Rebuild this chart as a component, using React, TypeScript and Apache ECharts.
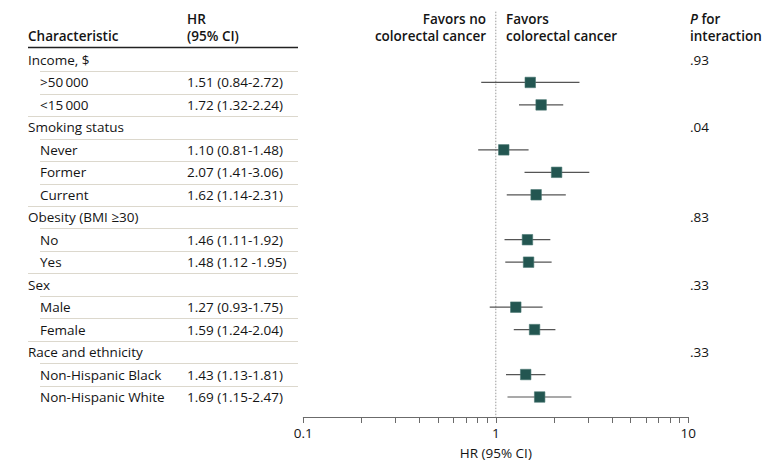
import React, { useEffect, useRef } from "react";
import * as echarts from "echarts";

// ---------- data ----------
const labels = [
  "Income, $",
  ">50\u2009000",
  "<15\u2009000",
  "Smoking status",
  "Never",
  "Former",
  "Current",
  "Obesity (BMI \u226530)",
  "No",
  "Yes",
  "Sex",
  "Male",
  "Female",
  "Race and ethnicity",
  "Non-Hispanic Black",
  "Non-Hispanic White",
];
const isHeader = [true, false, false, true, false, false, false, true, false, false, true, false, false, true, false, false];
const hr = [null, 1.51, 1.72, null, 1.1, 2.07, 1.62, null, 1.46, 1.48, null, 1.27, 1.59, null, 1.43, 1.69];
const lo = [null, 0.84, 1.32, null, 0.81, 1.41, 1.14, null, 1.11, 1.12, null, 0.93, 1.24, null, 1.13, 1.15];
const hi = [null, 2.72, 2.24, null, 1.48, 3.06, 2.31, null, 1.92, 1.95, null, 1.75, 2.04, null, 1.81, 2.47];
const hrText = [
  "",
  "1.51 (0.84-2.72)",
  "1.72 (1.32-2.24)",
  "",
  "1.10 (0.81-1.48)",
  "2.07 (1.41-3.06)",
  "1.62 (1.14-2.31)",
  "",
  "1.46 (1.11-1.92)",
  "1.48 (1.12 -1.95)",
  "",
  "1.27 (0.93-1.75)",
  "1.59 (1.24-2.04)",
  "",
  "1.43 (1.13-1.81)",
  "1.69 (1.15-2.47)",
];
const pInteraction = [".93", "", "", ".04", "", "", "", ".83", "", "", ".33", "", "", ".33", "", ""];
const xTickLabels = ["0.1", "1", "10"];
const minorTickValues = [0.2, 0.3, 0.4, 0.5, 0.6, 0.7, 0.8, 0.9, 2, 3, 4, 5, 6, 7, 8, 9];

// ---------- layout ----------
const FONT = '"Open Sans", "Noto Sans", sans-serif';
const FS = 13.5;
const TEXT = "#141414";
const Y_MIN = -2.5;
const Y_MAX = 15.89;
const GRID_TOP = 3.8;
const GRID_BOTTOM = 55;

export default function App() {
  const ref = useRef<HTMLDivElement>(null);

  useEffect(() => {
    if (!ref.current) return;
    const chart = echarts.init(ref.current, null, { renderer: "svg" });

    const rowData = labels.map((_, i) => [0, i]);
    const ciData = hr
      .map((v, i) => (v == null ? null : [v, i, lo[i], hi[i]]))
      .filter((d) => d !== null);

    const txt = (x: number, y: number, text: string, align: string, weight: any = "normal") => ({
      type: "text",
      x,
      y,
      style: {
        text,
        fill: TEXT,
        fontFamily: FONT,
        fontSize: FS,
        fontWeight: weight,
        align,
        verticalAlign: "middle",
        textAlign: align,
        textVerticalAlign: "middle",
      },
    });

    const option: any = {
      animation: false,
      grid: [
        { left: 0, right: 0, top: GRID_TOP, bottom: GRID_BOTTOM },
        { left: 303.3, right: 91.7, top: GRID_TOP, bottom: GRID_BOTTOM },
      ],
      xAxis: [
        { gridIndex: 0, type: "value", min: 0, max: 780, show: false },
        {
          gridIndex: 1,
          type: "log",
          logBase: 10,
          min: 0.1,
          max: 10,
          position: "bottom",
          axisLine: { show: true, onZero: false, lineStyle: { color: "#6b6b6b", width: 1 } },
          axisTick: { show: true, inside: false, length: 6, lineStyle: { color: "#6b6b6b" } },
          splitLine: { show: false },
          axisLabel: {
            fontFamily: FONT,
            fontSize: FS,
            color: TEXT,
            margin: 9,
            formatter: (v: number) => {
              const s = String(+v.toPrecision(3));
              return xTickLabels.includes(s) ? s : "";
            },
          },
          name: "HR (95% CI)",
          nameLocation: "middle",
          nameGap: 29,
          nameTextStyle: { fontFamily: FONT, fontSize: FS, color: TEXT },
        },
      ],
      yAxis: [
        { gridIndex: 0, type: "value", inverse: true, min: Y_MIN, max: Y_MAX, show: false },
        { gridIndex: 1, type: "value", inverse: true, min: Y_MIN, max: Y_MAX, show: false },
      ],
      graphic: [
        txt(28, 36, "Characteristic", "left", 600),
        txt(187, 19, "HR", "left", 600),
        txt(187, 36, "(95% CI)", "left", 600),
        txt(486, 19, "Favors no", "right", 600),
        txt(486, 36, "colorectal cancer", "right", 600),
        txt(506, 19, "Favors", "left", 600),
        txt(506, 36, "colorectal cancer", "left", 600),
        {
          type: "text",
          x: 690,
          y: 19,
          style: {
            text: "{i|P} for",
            fill: TEXT,
            fontFamily: FONT,
            fontSize: FS,
            fontWeight: 600,
            align: "left",
            verticalAlign: "middle",
            textAlign: "left",
            textVerticalAlign: "middle",
            rich: {
              i: { fontStyle: "italic", fontFamily: FONT, fontSize: FS, fontWeight: 600, fill: TEXT, color: TEXT },
            },
          },
        },
        txt(690, 36, "interaction", "left", 600),
        {
          type: "line",
          shape: { x1: 28, y1: 47.5, x2: 298, y2: 47.5 },
          style: { stroke: "#222", lineWidth: 1.4 },
        },
      ],
      series: [
        // table: labels, HR text, P values, separators
        {
          type: "custom",
          xAxisIndex: 0,
          yAxisIndex: 0,
          data: rowData,
          clip: false,
          renderItem: (params: any, api: any) => {
            const i = api.value(1);
            const p = api.coord([0, i]);
            const y = p[1];
            const children: any[] = [];
            children.push(txt(isHeader[i] ? 28 : 40, y, labels[i], "left"));
            if (hrText[i]) children.push(txt(187, y, hrText[i], "left"));
            if (pInteraction[i]) children.push(txt(690, y, pInteraction[i], "left"));
            if (i < labels.length - 1) {
              const yNext = api.coord([0, i + 1])[1];
              const ys = Math.round((y + yNext) / 2) + 0.5;
              const x1 = isHeader[i + 1] ? 28 : 40;
              children.push({
                type: "line",
                shape: { x1, y1: ys, x2: 298, y2: ys },
                style: { stroke: "#dcd8cd", lineWidth: 1 },
              });
            }
            return { type: "group", children };
          },
        },
        // reference line at HR = 1
        {
          type: "custom",
          xAxisIndex: 1,
          yAxisIndex: 1,
          data: [[1]],
          clip: false,
          renderItem: (params: any, api: any) => {
            const top = api.coord([api.value(0), -2.15]);
            const bot = api.coord([api.value(0), Y_MAX]);
            return {
              type: "line",
              shape: { x1: top[0], y1: top[1], x2: bot[0], y2: bot[1] },
              style: { stroke: "#9a9a9a", lineWidth: 1, lineDash: [1.5, 1.5] },
            };
          },
        },
        // minor ticks on log axis
        {
          type: "custom",
          xAxisIndex: 1,
          yAxisIndex: 1,
          data: minorTickValues.map((v) => [v]),
          clip: false,
          renderItem: (params: any, api: any) => {
            const p = api.coord([api.value(0), Y_MAX]);
            const x = Math.round(p[0]) + 0.5;
            return {
              type: "line",
              shape: { x1: x, y1: p[1], x2: x, y2: p[1] + 6 },
              style: { stroke: "#6b6b6b", lineWidth: 1 },
            };
          },
        },
        // CI lines and squares
        {
          type: "custom",
          xAxisIndex: 1,
          yAxisIndex: 1,
          data: ciData,
          clip: false,
          renderItem: (params: any, api: any) => {
            const row = api.value(1);
            const c = api.coord([api.value(0), row]);
            const l = api.coord([api.value(2), row]);
            const h = api.coord([api.value(3), row]);
            const s = 10.5;
            return {
              type: "group",
              children: [
                {
                  type: "line",
                  shape: { x1: l[0], y1: c[1], x2: h[0], y2: c[1] },
                  style: { stroke: "#555", lineWidth: 1.2 },
                },
                {
                  type: "rect",
                  shape: { x: c[0] - s / 2, y: c[1] - s / 2, width: s, height: s },
                  style: { fill: "#235651", stroke: "#4a7772", lineWidth: 0.6 },
                },
              ],
            };
          },
        },
      ],
    };

    chart.setOption(option);
    return () => chart.dispose();
  }, []);

  return <div ref={ref} style={{ width: 780, height: 472, position: "absolute", left: 0, top: 0 }} />;
}
